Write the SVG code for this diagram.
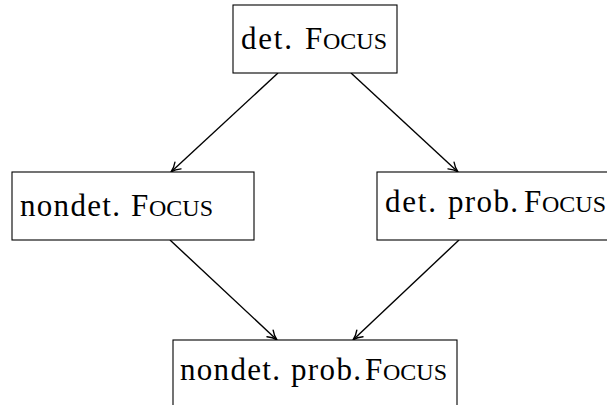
<svg xmlns="http://www.w3.org/2000/svg" width="607" height="405" viewBox="0 0 607 405">
  <defs>
    <marker id="arrow" viewBox="0 0 12 12" refX="11" refY="6" markerWidth="12" markerHeight="12" markerUnits="userSpaceOnUse" orient="auto">
      <path d="M1.5,1.5 Q6,5 11,6 Q6,7 1.5,10.5" fill="none" stroke="#000" stroke-width="1.4" stroke-linecap="round"/>
    </marker>
  </defs>
  <style>
    .box { fill: #fff; stroke: #000; stroke-width: 1.1; }
    .edge { stroke: #000; stroke-width: 1.4; fill: none; marker-end: url(#arrow); }
  </style>
  <rect width="607" height="405" fill="#fff"/>

  <g id="edges">
    <line class="edge" x1="278" y1="73" x2="171" y2="172"/>
    <line class="edge" x1="351" y1="73" x2="458" y2="172"/>
    <line class="edge" x1="170" y1="240" x2="277" y2="340"/>
    <line class="edge" x1="459" y1="240" x2="353" y2="340"/>
  </g>

  <!-- labels: serif text, "Focus" set in small capitals -->
  <g font-family="Liberation Serif" font-size="31" fill="#000">
    <g id="det-focus">
      <rect class="box" x="233" y="5" width="164" height="68"/>
      <text y="49"><tspan x="241" textLength="51" lengthAdjust="spacing">det.</tspan><tspan x="305">F</tspan><tspan x="323" font-size="24" textLength="64" lengthAdjust="spacing">OCUS</tspan></text>
    </g>

    <g id="nondet-focus">
      <rect class="box" x="12" y="172" width="242" height="68"/>
      <text y="216"><tspan x="20" textLength="100" lengthAdjust="spacing">nondet.</tspan><tspan x="131">F</tspan><tspan x="149" font-size="24" textLength="64" lengthAdjust="spacing">OCUS</tspan></text>
    </g>

    <g id="det-prob-focus">
      <rect class="box" x="377" y="172" width="238" height="68"/>
      <text y="212"><tspan x="385" textLength="51" lengthAdjust="spacing">det.</tspan><tspan x="448" textLength="70" lengthAdjust="spacing">prob.</tspan><tspan x="524">F</tspan><tspan x="542" font-size="24" textLength="64" lengthAdjust="spacing">OCUS</tspan></text>
    </g>

    <g id="nondet-prob-focus">
      <rect class="box" x="173" y="340" width="284" height="68"/>
      <text y="380"><tspan x="180" textLength="100" lengthAdjust="spacing">nondet.</tspan><tspan x="291" textLength="70" lengthAdjust="spacing">prob.</tspan><tspan x="365">F</tspan><tspan x="383" font-size="24" textLength="64" lengthAdjust="spacing">OCUS</tspan></text>
    </g>
  </g>
</svg>
